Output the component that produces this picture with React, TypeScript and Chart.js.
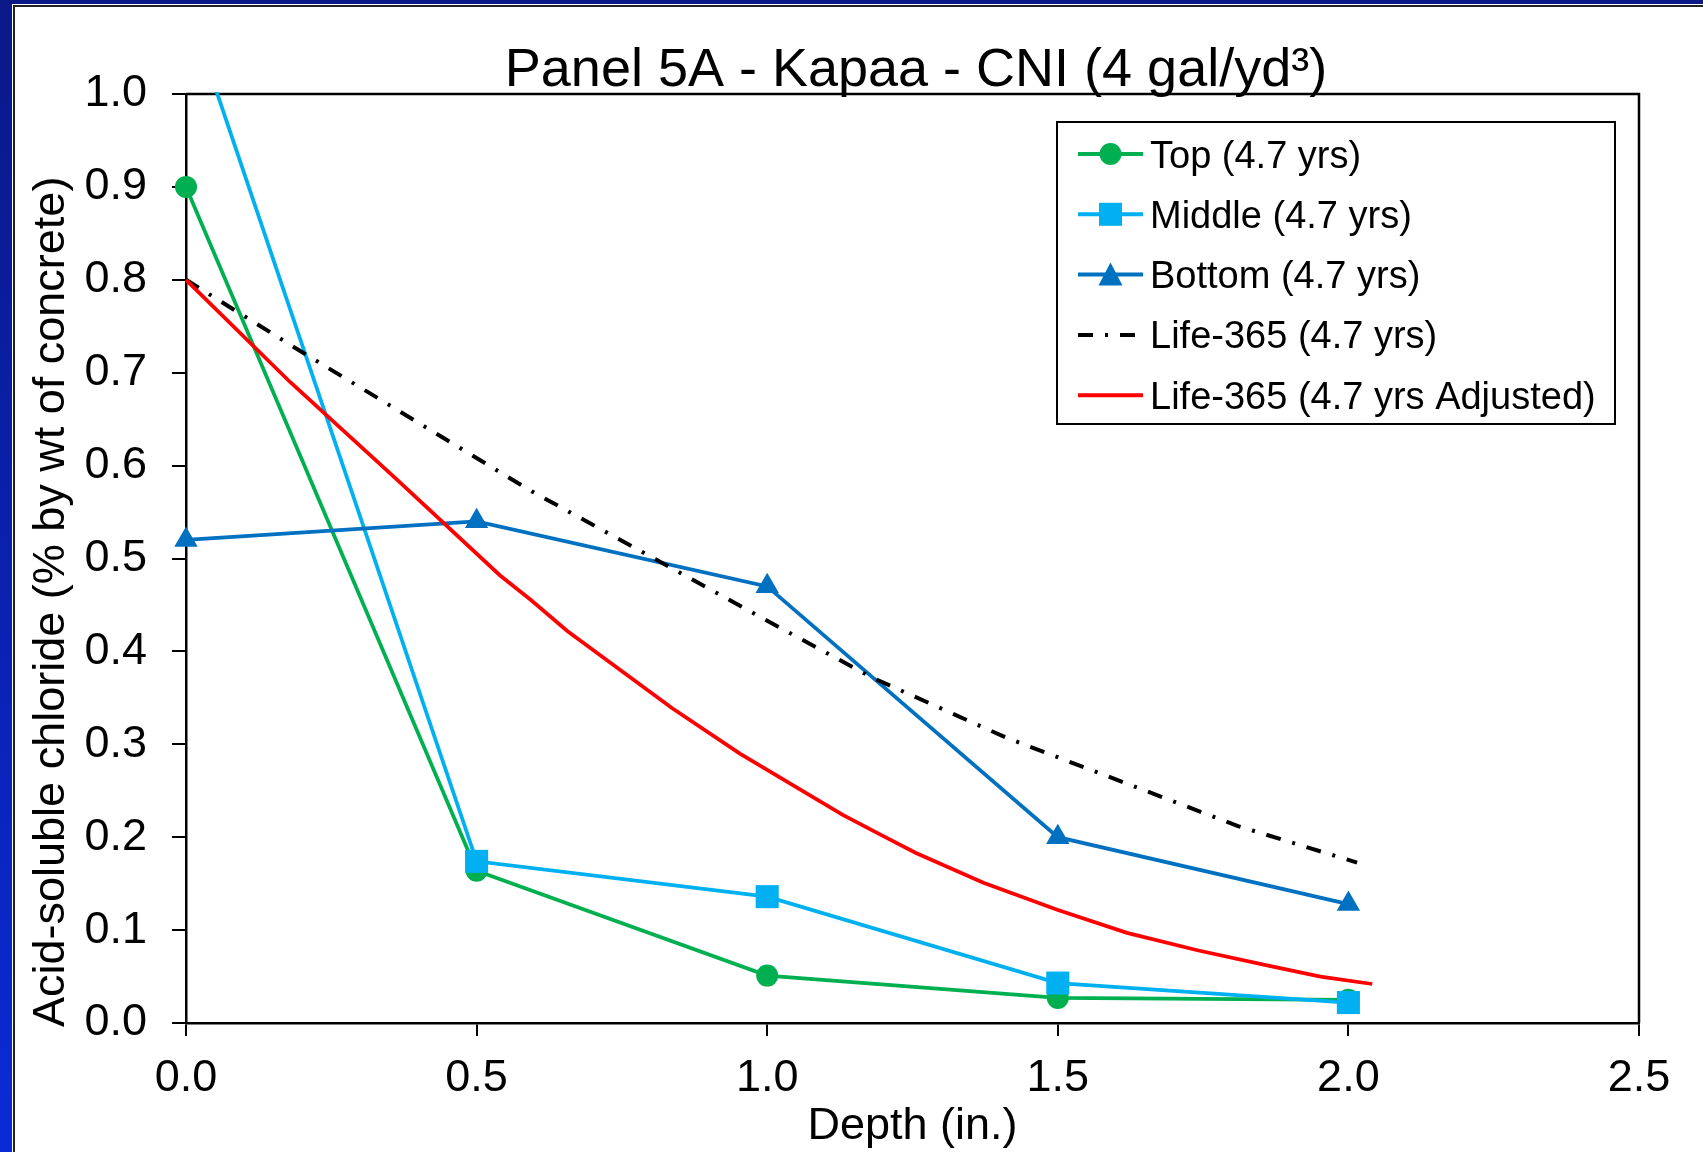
import { useEffect, useRef } from 'react';
import { Chart, registerables } from 'chart.js';

Chart.register(...registerables);

const FONT = '"Liberation Sans", Arial, Helvetica, sans-serif';

// Text
const chartTitle = 'Panel 5A - Kapaa - CNI (4 gal/yd³)';
const xAxisTitle = 'Depth (in.)';
const yAxisTitle = 'Acid-soluble chloride (% by wt of concrete)';
const seriesNames = [
  'Top (4.7 yrs)',
  'Middle (4.7 yrs)',
  'Bottom (4.7 yrs)',
  'Life-365 (4.7 yrs)',
  'Life-365 (4.7 yrs Adjusted)',
];

// Measured chloride profiles (depth in inches, % by weight of concrete)
const sampleDepths = [0, 0.5, 1.0, 1.5, 2.0];
const topChloride = [0.9, 0.164, 0.051, 0.027, 0.025];
const middleChloride = [1.1, 0.174, 0.136, 0.043, 0.022];
const bottomChloride = [0.52, 0.54, 0.47, 0.2, 0.128];

// Life-365 model profile
const life365Depths = [0, 0.2, 0.59, 1.0, 1.18, 1.41, 1.81, 2.015];
const life365Chloride = [0.8, 0.722, 0.574, 0.433, 0.372, 0.3075, 0.212, 0.1726];

// Life-365 adjusted profile
const adjustedDepths = [
  0, 0.179, 0.363, 0.54, 0.594, 0.656, 0.836, 0.953, 1.13, 1.194, 1.256, 1.372, 1.499, 1.619,
  1.742, 1.86, 1.952, 2.041,
];
const adjustedChloride = [
  0.8, 0.69, 0.585, 0.482, 0.455, 0.422, 0.339, 0.29, 0.224, 0.203, 0.183, 0.151, 0.122, 0.097,
  0.078, 0.062, 0.05, 0.042,
];

// Axis ticks
const xTickValues = [0, 0.5, 1.0, 1.5, 2.0, 2.5];
const yTickValues = [0, 0.1, 0.2, 0.3, 0.4, 0.5, 0.6, 0.7, 0.8, 0.9, 1.0];

const GREEN = '#00B050';
const LIGHT_BLUE = '#00B0F0';
const BLUE = '#0070C0';
const RED = '#FF0000';
const BLACK = '#000000';
const DASH_DOT = [15, 12, 3, 12];

// Lines are cut at the top of the plot; markers on the left edge stay whole
const SERIES_CLIP = { left: 20, top: 2, right: 20, bottom: 20 };

const pts = (xs: number[], ys: number[]) => xs.map((x, i) => ({ x, y: ys[i] }));

type MarkerKind = 'circle' | 'square' | 'triangle' | 'none';

const legendItems: { label: string; color: string; marker: MarkerKind; dash: number[] }[] = [
  { label: seriesNames[0], color: GREEN, marker: 'circle', dash: [] },
  { label: seriesNames[1], color: LIGHT_BLUE, marker: 'square', dash: [] },
  { label: seriesNames[2], color: BLUE, marker: 'triangle', dash: [] },
  { label: seriesNames[3], color: BLACK, marker: 'none', dash: DASH_DOT },
  { label: seriesNames[4], color: RED, marker: 'none', dash: [] },
];

function drawMarker(ctx: CanvasRenderingContext2D, kind: MarkerKind, x: number, y: number, color: string) {
  ctx.save();
  ctx.fillStyle = color;
  ctx.beginPath();
  if (kind === 'circle') {
    ctx.arc(x, y, 11, 0, Math.PI * 2);
  } else if (kind === 'square') {
    ctx.rect(x - 11.5, y - 11.5, 23, 23);
  } else if (kind === 'triangle') {
    ctx.moveTo(x, y - 12);
    ctx.lineTo(x + 12, y + 11);
    ctx.lineTo(x - 12, y + 11);
    ctx.closePath();
  }
  ctx.fill();
  ctx.restore();
}

// Slide background with the white chart panel on top of it
const framePlugin = {
  id: 'slideFrame',
  beforeDraw(chart: any) {
    const { ctx, width, height } = chart;
    ctx.save();
    const g = ctx.createLinearGradient(0, 0, 0, height);
    g.addColorStop(0, '#0a1888');
    g.addColorStop(1, '#0a2ad6');
    ctx.fillStyle = g;
    ctx.fillRect(0, 0, width, height);
    ctx.fillStyle = '#ffffff';
    ctx.fillRect(12, 4, width - 12, height - 4);
    ctx.strokeStyle = '#222222';
    ctx.lineWidth = 2;
    ctx.beginPath();
    ctx.moveTo(14, height);
    ctx.lineTo(14, 6);
    ctx.lineTo(width, 6);
    ctx.stroke();
    ctx.restore();
  },
};

// Closes the plot box on the top and right sides
const plotBoxPlugin = {
  id: 'plotBox',
  beforeDatasetsDraw(chart: any) {
    const { ctx, chartArea } = chart;
    ctx.save();
    ctx.strokeStyle = BLACK;
    ctx.lineWidth = 2.5;
    ctx.beginPath();
    ctx.moveTo(chartArea.left, chartArea.top);
    ctx.lineTo(chartArea.right, chartArea.top);
    ctx.lineTo(chartArea.right, chartArea.bottom);
    ctx.stroke();
    ctx.restore();
  },
};

// Chart title and the vertical value-axis title
const titlesPlugin = {
  id: 'panelTitles',
  afterDraw(chart: any) {
    const { ctx, chartArea } = chart;
    ctx.save();
    ctx.font = `54px ${FONT}`;
    ctx.fillStyle = BLACK;
    ctx.textAlign = 'center';
    ctx.textBaseline = 'alphabetic';
    ctx.fillText(chartTitle, 916, 86);
    ctx.restore();

    ctx.save();
    ctx.font = `45px ${FONT}`;
    ctx.fillStyle = BLACK;
    ctx.translate(52, chartArea.bottom + 4);
    ctx.rotate(-Math.PI / 2);
    ctx.textAlign = 'left';
    ctx.textBaseline = 'middle';
    ctx.fillText(yAxisTitle, 0, 0);
    ctx.restore();
  },
};

const legendPlugin = {
  id: 'boxLegend',
  afterDraw(chart: any) {
    const { ctx } = chart;
    const left = 1057;
    const top = 122;
    const w = 558;
    const h = 302;
    ctx.save();
    ctx.fillStyle = '#ffffff';
    ctx.fillRect(left, top, w, h);
    ctx.strokeStyle = BLACK;
    ctx.lineWidth = 2;
    ctx.strokeRect(left, top, w, h);
    legendItems.forEach((item, i) => {
      const cy = 154 + i * 60.3;
      ctx.save();
      ctx.strokeStyle = item.color;
      ctx.lineWidth = 4;
      ctx.setLineDash(item.dash);
      ctx.beginPath();
      ctx.moveTo(1078, cy);
      ctx.lineTo(item.dash.length ? 1136 : 1143, cy);
      ctx.stroke();
      ctx.restore();
      drawMarker(ctx, item.marker, 1110.5, cy, item.color);
      ctx.font = `38px ${FONT}`;
      ctx.fillStyle = BLACK;
      ctx.textAlign = 'left';
      ctx.textBaseline = 'alphabetic';
      ctx.fillText(item.label, 1150, cy + 13.5);
    });
    ctx.restore();
  },
};

export default function App() {
  const canvasRef = useRef<HTMLCanvasElement>(null);

  useEffect(() => {
    const canvas = canvasRef.current;
    if (!canvas) return;
    Chart.defaults.font.family = FONT;
    Chart.defaults.color = BLACK;

    const tickFont = { family: FONT, size: 45 };
    const axisGrid = (tickLength: number) => ({
      display: true,
      drawOnChartArea: false,
      drawTicks: true,
      tickLength,
      tickColor: BLACK,
      tickWidth: 2,
      color: BLACK,
      lineWidth: 2,
    });

    const chart = new Chart(canvas, {
      type: 'line',
      data: {
        datasets: [
          {
            label: seriesNames[0],
            data: pts(sampleDepths, topChloride),
            borderColor: GREEN,
            backgroundColor: GREEN,
            borderWidth: 3.75,
            pointStyle: 'circle',
            pointRadius: 11,
            pointBorderWidth: 0,
            pointHoverRadius: 11,
            clip: SERIES_CLIP,
            order: 5,
          },
          {
            label: seriesNames[1],
            data: pts(sampleDepths, middleChloride),
            borderColor: LIGHT_BLUE,
            backgroundColor: LIGHT_BLUE,
            borderWidth: 3.75,
            pointStyle: 'rect',
            pointRadius: 16.3,
            pointBorderWidth: 0,
            pointHoverRadius: 16.3,
            clip: SERIES_CLIP,
            order: 4,
          },
          {
            label: seriesNames[2],
            data: pts(sampleDepths, bottomChloride),
            borderColor: BLUE,
            backgroundColor: BLUE,
            borderWidth: 3.75,
            pointStyle: 'triangle',
            pointRadius: 13.5,
            pointBorderWidth: 0,
            pointHoverRadius: 13.5,
            clip: SERIES_CLIP,
            order: 3,
          },
          {
            label: seriesNames[3],
            data: pts(life365Depths, life365Chloride),
            borderColor: BLACK,
            backgroundColor: BLACK,
            borderWidth: 4,
            borderDash: DASH_DOT,
            pointRadius: 0,
            pointHoverRadius: 0,
            clip: SERIES_CLIP,
            order: 2,
          },
          {
            label: seriesNames[4],
            data: pts(adjustedDepths, adjustedChloride),
            borderColor: RED,
            backgroundColor: RED,
            borderWidth: 3.75,
            pointRadius: 0,
            pointHoverRadius: 0,
            clip: SERIES_CLIP,
            order: 1,
          },
        ],
      },
      options: {
        animation: false,
        responsive: false,
        devicePixelRatio: 1,
        events: [],
        layout: { padding: { left: 0, top: 94, right: 64, bottom: 0 } },
        elements: { line: { tension: 0 } },
        plugins: {
          legend: { display: false },
          title: { display: false },
          tooltip: { enabled: false },
        },
        scales: {
          x: {
            type: 'linear',
            min: 0,
            max: 2.5,
            afterBuildTicks: (scale: any) => {
              scale.ticks = xTickValues.map((value) => ({ value }));
            },
            afterFit: (scale: any) => {
              scale.height = 129;
            },
            ticks: {
              font: tickFont,
              color: BLACK,
              padding: 16,
              maxRotation: 0,
              callback: (v: any) => Number(v).toFixed(1),
            },
            grid: axisGrid(13),
            border: { display: true, color: BLACK, width: 2.5 },
            title: {
              display: true,
              text: xAxisTitle,
              color: BLACK,
              font: { family: FONT, size: 45, lineHeight: 1 },
              padding: { top: 0, bottom: 3 },
            },
          },
          y: {
            type: 'linear',
            min: 0,
            max: 1,
            afterBuildTicks: (scale: any) => {
              scale.ticks = yTickValues.map((value) => ({ value }));
            },
            afterFit: (scale: any) => {
              scale.width = 186;
            },
            ticks: {
              font: tickFont,
              color: BLACK,
              padding: 25,
              callback: (v: any) => Number(v).toFixed(1),
            },
            grid: axisGrid(14),
            border: { display: true, color: BLACK, width: 2.5 },
            title: { display: false },
          },
        },
      } as any,
      plugins: [framePlugin, plotBoxPlugin, titlesPlugin, legendPlugin],
    });

    return () => chart.destroy();
  }, []);

  return (
    <div style={{ position: 'fixed', left: 0, top: 0, width: 1703, height: 1152 }}>
      <canvas
        ref={canvasRef}
        width={1703}
        height={1152}
        style={{ display: 'block', width: 1703, height: 1152 }}
      />
    </div>
  );
}
